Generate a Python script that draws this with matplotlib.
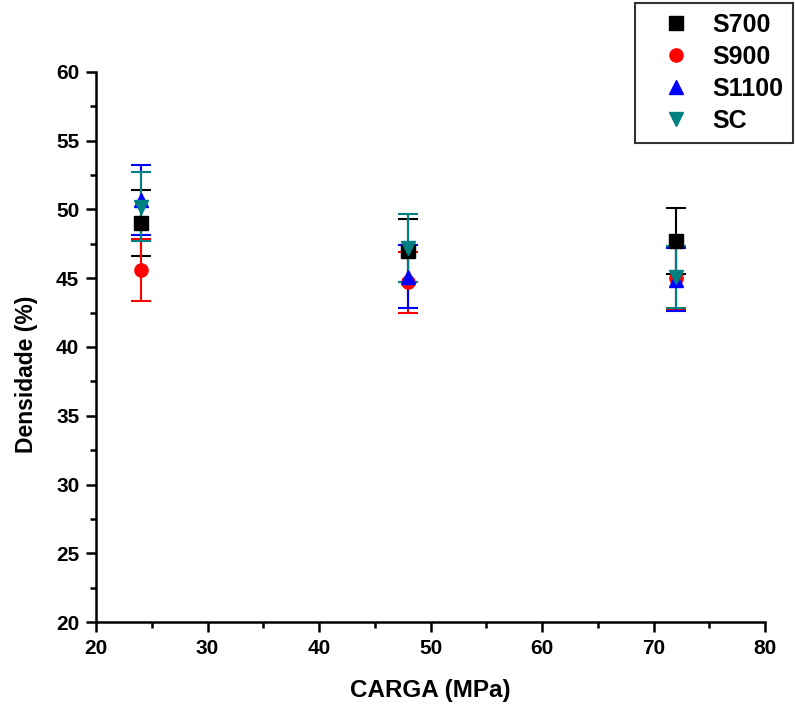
import numpy as np
import matplotlib.pyplot as plt
from matplotlib.ticker import MultipleLocator
from matplotlib.lines import Line2D

plt.rcParams['font.family'] = ['Liberation Sans', 'DejaVu Sans']
plt.rcParams['font.weight'] = 'bold'

carga = [24, 48, 72]
series = ['S700', 'S900', 'S1100', 'SC']
dens_s700 = [49.0, 47.0, 47.7]
err_s700 = [2.4, 2.3, 2.4]
dens_s900 = [45.6, 44.7, 45.0]
err_s900 = [2.25, 2.2, 2.3]
dens_s1100 = [50.7, 45.1, 44.9]
err_s1100 = [2.55, 2.3, 2.3]
dens_sc = [50.2, 47.2, 45.1]
err_sc = [2.5, 2.45, 2.25]

styles = [
    ('s', 'black'),
    ('o', 'red'),
    ('^', 'blue'),
    ('v', '#008080'),
]
values = [dens_s700, dens_s900, dens_s1100, dens_sc]
errors = [err_s700, err_s900, err_s1100, err_sc]

fig = plt.figure(figsize=(7.95, 7.13), dpi=100)
ax = fig.add_axes([0.1208, 0.1276, 0.8415, 0.7715])

handles = []
for name, (mk, col), y, e in zip(series, styles, values, errors):
    ax.errorbar(carga, y, yerr=e, fmt=mk, color=col, ecolor=col,
                markersize=9.5, elinewidth=1.5, capsize=7, capthick=1.5)
    handles.append(Line2D([], [], linestyle='none', marker=mk, color=col,
                          markersize=9.5))

ax.set_xlim(20, 80)
ax.set_ylim(20, 60)
ax.xaxis.set_major_locator(MultipleLocator(10))
ax.xaxis.set_minor_locator(MultipleLocator(5))
ax.yaxis.set_major_locator(MultipleLocator(5))
ax.yaxis.set_minor_locator(MultipleLocator(2.5))
ax.tick_params(which='major', direction='out', length=7.5, width=1.8,
               labelsize=15, pad=4.5)
ax.tick_params(which='minor', direction='out', length=4, width=1.8)
ax.spines['top'].set_visible(False)
ax.spines['right'].set_visible(False)
ax.spines['left'].set_linewidth(1.8)
ax.spines['bottom'].set_linewidth(1.8)

ax.set_xlabel('CARGA (MPa)', fontsize=17.5, fontweight='bold')
ax.set_ylabel('Densidade (%)', fontsize=16.5, fontweight='bold')
ax.xaxis.set_label_coords(0.5, -0.103)
ax.yaxis.set_label_coords(-0.087, 0.451)

leg = fig.legend(handles=handles, labels=series, loc='upper right',
                 bbox_to_anchor=(0.998, 0.996), borderaxespad=0,
                 fontsize=18, frameon=True, fancybox=False,
                 edgecolor='black', borderpad=0.4, labelspacing=0.32,
                 handletextpad=0.25, handlelength=2.44)
leg.get_frame().set_linewidth(1.5)

plt.savefig('out.png', dpi=100)
